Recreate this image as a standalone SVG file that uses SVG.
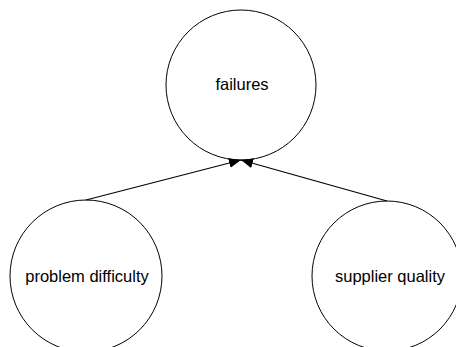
<svg xmlns="http://www.w3.org/2000/svg" width="456" height="347" viewBox="0 0 456 347">
  <style>
    .node circle { fill: #ffffff; stroke: #000000; stroke-width: 1; }
    .node text { font-family: "Liberation Sans", Arial, sans-serif; font-size: 16.5px; fill: #000000; text-anchor: middle; }
    .edges line { stroke: #000000; stroke-width: 1.2; marker-end: url(#arrow); }
  </style>
  <defs>
    <marker id="arrow" viewBox="0 0 12 10" refX="12" refY="5" markerWidth="12" markerHeight="10" markerUnits="userSpaceOnUse" orient="auto">
      <path d="M0,0 L12,5 L0,10 Z" fill="#000000"/>
    </marker>
  </defs>
  <rect width="456" height="347" fill="#ffffff"/>
  <g id="node-failures" class="node">
    <circle cx="241" cy="85" r="75"/>
    <text x="242" y="90">failures</text>
  </g>
  <g id="node-problem-difficulty" class="node">
    <circle cx="86" cy="276" r="76"/>
    <text x="87" y="282">problem difficulty</text>
  </g>
  <g id="node-supplier-quality" class="node">
    <circle cx="387" cy="276" r="75"/>
    <text x="390" y="282">supplier quality</text>
  </g>
  <g id="edges" class="edges">
    <line x1="86" y1="200" x2="241" y2="160"/>
    <line x1="387" y1="201" x2="241" y2="160"/>
  </g>
</svg>
